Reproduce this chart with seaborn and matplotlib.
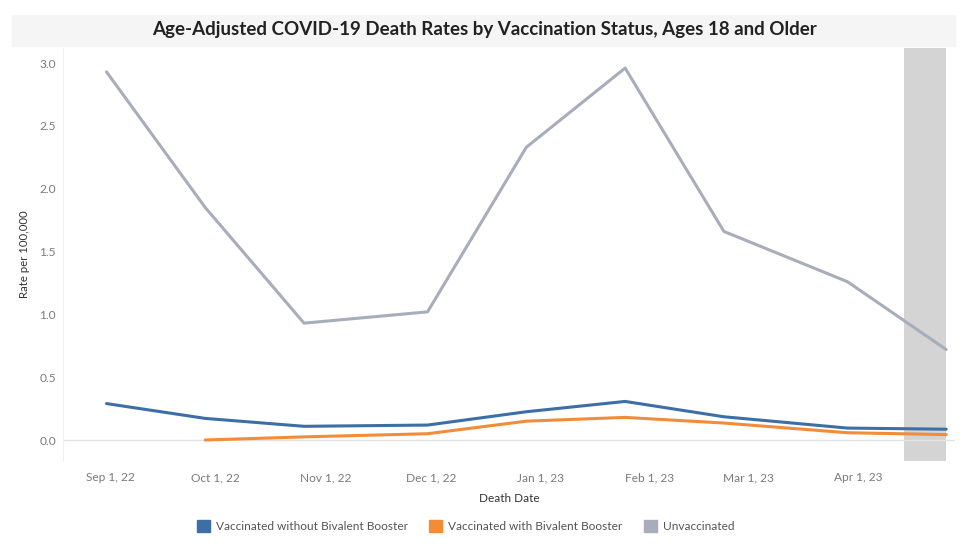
import pandas as pd
import matplotlib.pyplot as plt
import matplotlib.dates as mdates
import matplotlib.patches as mpatches
import seaborn as sns

# values
dates = ["2022-08-31", "2022-09-28", "2022-10-26", "2022-11-30", "2022-12-28",
         "2023-01-25", "2023-02-22", "2023-03-29", "2023-04-26"]
vacc_no_bivalent = [0.29, 0.172, 0.109, 0.119, 0.225, 0.307, 0.185, 0.095, 0.086]
vacc_bivalent = [None, 0.0, 0.025, 0.05, 0.15, 0.18, 0.135, 0.058, 0.043]
unvaccinated = [2.93, 1.85, 0.93, 1.02, 2.33, 2.96, 1.66, 1.26, 0.72]

series_names = ["Vaccinated without Bivalent Booster",
                "Vaccinated with Bivalent Booster",
                "Unvaccinated"]
series_colors = ["#3b6fa6", "#f28c38", "#a7adba"]
shade_start, shade_end = "2023-04-14", "2023-04-26"

rows = []
for name, vals in zip(series_names, [vacc_no_bivalent, vacc_bivalent, unvaccinated]):
    for d, v in zip(dates, vals):
        if v is not None:
            rows.append({"date": pd.Timestamp(d), "rate": v, "status": name})
df = pd.DataFrame(rows)

sns.set_style("white")
plt.rcParams['font.family'] = ['Lato', 'DejaVu Sans']

fig = plt.figure(figsize=(9.6, 5.49), dpi=100)
ax = fig.add_axes([0.0656, 0.1603, 0.9292, 0.7523])

# shaded (incomplete data) period
ax.axvspan(pd.Timestamp(shade_start), pd.Timestamp(shade_end), color="#d4d4d4", zorder=0, lw=0)

sns.lineplot(data=df, x="date", y="rate", hue="status", hue_order=series_names,
             palette=series_colors, linewidth=2.2, ax=ax, legend=False, zorder=3)

ax.axhline(0, color="#e2e2e2", lw=1, zorder=1)
ax.set_xlim(pd.Timestamp("2022-08-18 16:00"), pd.Timestamp("2023-04-28 12:00"))
ax.set_ylim(-0.167, 3.12)
ax.set_yticks([0, 0.5, 1.0, 1.5, 2.0, 2.5, 3.0])
ax.yaxis.set_major_formatter(plt.FuncFormatter(lambda v, p: f"{v:.1f}"))
ax.xaxis.set_major_locator(mdates.MonthLocator())


def date_label(v, pos):
    d = mdates.num2date(v)
    return f"{d:%b} {d.day}, {d:%y}"


ax.xaxis.set_major_formatter(plt.FuncFormatter(date_label))

for side in ["top", "right", "bottom"]:
    ax.spines[side].set_visible(False)
ax.spines["left"].set_color("#f0f0f0")
ax.tick_params(axis="both", length=0, labelsize=8.6, labelcolor="#7a7a7a")
ax.tick_params(axis="y", pad=5)
ax.tick_params(axis="x", pad=8)

ax.set_xlabel("Death Date", fontsize=8.5, color="#333333")
ax.set_ylabel("Rate per 100,000", fontsize=8.2, color="#333333")
ax.xaxis.set_label_coords(0.5, -0.077)
ax.yaxis.set_label_coords(-0.037, 0.5)

# title bar
fig.patches.append(mpatches.Rectangle((12 / 960, 1 - 46 / 549), 943 / 960, 31 / 549,
                                      transform=fig.transFigure, color="#f5f5f5", zorder=0))
fig.text(0.505, 1 - 30 / 549, "Age-Adjusted COVID-19 Death Rates by Vaccination Status, Ages 18 and Older",
         ha="center", va="center", fontsize=13.5, fontweight="bold", color="#222222")

handles = [mpatches.Patch(color=c, label=n) for n, c in zip(series_names, series_colors)]
fig.legend(handles=handles, loc="center", bbox_to_anchor=(0.485, 1 - 526 / 549), ncol=3,
           frameon=False, fontsize=8.6, handlelength=1.1, handleheight=1.1,
           handletextpad=0.5, columnspacing=1.8, labelcolor="#555555")

fig.savefig("out.png", dpi=100)
